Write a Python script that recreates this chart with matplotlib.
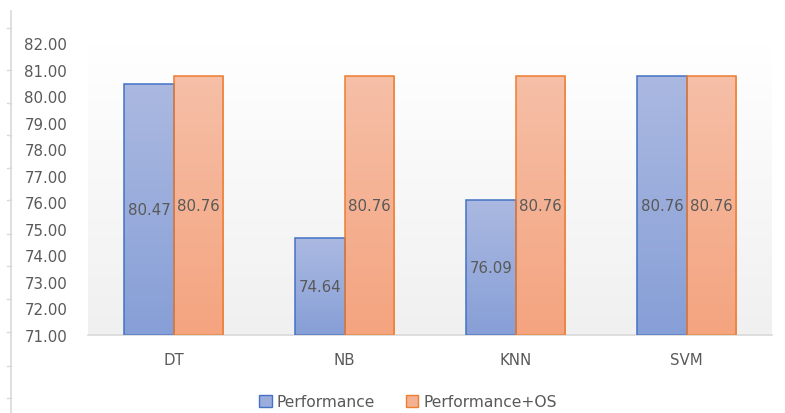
import numpy as np
import matplotlib
matplotlib.use('Agg')
import matplotlib.pyplot as plt
from matplotlib.colors import LinearSegmentedColormap
from matplotlib.lines import Line2D
from matplotlib.patches import Patch

plt.rcParams['font.family'] = 'DejaVu Sans'

modelos = ['DT', 'NB', 'KNN', 'SVM']
performance = [80.47, 74.64, 76.09, 80.76]
performance_os = [80.76, 80.76, 80.76, 80.76]
series = ['Performance', 'Performance+OS']
yticks = [71, 72, 73, 74, 75, 76, 77, 78, 79, 80, 81, 82]

base = 71
texto = '#595959'

fig = plt.figure(figsize=(7.85, 4.14), dpi=100)
ax = fig.add_axes([88/785, 1-336/414, 684/785, 292/414])

# fundo do grafico com degrade
fundo = LinearSegmentedColormap.from_list('fundo', ['#ffffff', '#f0f0f0'])
ax.imshow(np.linspace(0, 1, 256).reshape(-1, 1), cmap=fundo, aspect='auto',
          extent=[0, 1, 0, 1], transform=ax.transAxes, zorder=0)

cmap_azul = LinearSegmentedColormap.from_list('azul', ['#abb9e1', '#879fd7'])
cmap_lar = LinearSegmentedColormap.from_list('laranja', ['#f6bfa7', '#f4a47f'])

x = np.arange(len(modelos))
w = 0.287
grad = np.linspace(0, 1, 128).reshape(-1, 1)

def barras(pos, vals, cmap, borda):
    bs = ax.bar(pos, np.array(vals) - base, w, bottom=base, facecolor='none',
                edgecolor=borda, linewidth=1.1, zorder=3)
    for b in bs:
        im = ax.imshow(grad, cmap=cmap, aspect='auto', zorder=2,
                       extent=[b.get_x(), b.get_x() + b.get_width(), base, base + b.get_height()])
        im.set_clip_path(b)
    for p, v in zip(pos, vals):
        ax.text(p, (base + v) / 2, f'{v:.2f}', ha='center', va='center',
                fontsize=10.8, color=texto, zorder=4)
    return bs

b1 = barras(x - w/2, performance, cmap_azul, '#4472c4')
b2 = barras(x + w/2, performance_os, cmap_lar, '#ed7d31')

ax.set_xlim(-0.5, 3.5)
ax.set_ylim(71, 82)
ax.set_yticks(yticks)
ax.set_yticklabels([f'{t:.2f}' for t in yticks])
ax.set_xticks(x)
ax.set_xticklabels(modelos)
ax.tick_params(axis='y', length=0, pad=15, labelsize=10.8, labelcolor=texto)
ax.tick_params(axis='x', length=0, pad=12, labelsize=10.8, labelcolor=texto)
for s in ['top', 'right', 'left']:
    ax.spines[s].set_visible(False)
ax.spines['bottom'].set_color('#d9d9d9')
ax.spines['bottom'].set_linewidth(1.2)

handles = [Patch(facecolor='#9aaddc', edgecolor='#4472c4'),
           Patch(facecolor='#f5b293', edgecolor='#ed7d31')]
fig.legend(handles, series, loc='center', bbox_to_anchor=(408/785, 1-403/414), ncol=2,
           frameon=False, fontsize=11.2, labelcolor=texto, handlelength=0.8,
           handleheight=0.8, handletextpad=0.3, columnspacing=2.0)

# linha decorativa a esquerda
fig.add_artist(Line2D([11/785, 11/785], [0, 1-12/414], color='#d9d9d9', lw=1.2))
for yy in [29, 71, 104, 136, 169, 201, 235, 267, 300, 333, 367, 399]:
    fig.add_artist(Line2D([7/785, 11/785], [1-yy/414, 1-yy/414], color='#d9d9d9', lw=1))

fig.savefig('out.png', dpi=100)
